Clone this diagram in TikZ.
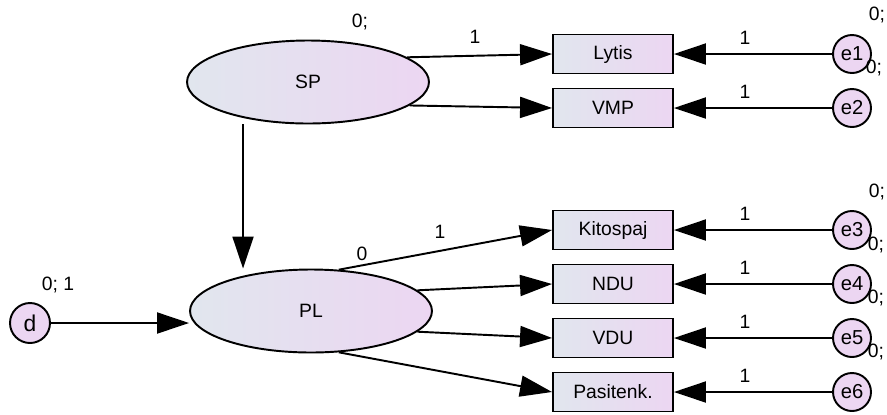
\documentclass[tikz,border=0pt]{standalone}
\usepackage{fontspec}
\setmainfont{Liberation Sans}
\usetikzlibrary{arrows.meta,shapes.geometric}

\definecolor{lgray}{RGB}{225,230,238}
\definecolor{lpink}{RGB}{236,214,242}

\tikzset{
  lat/.style={ellipse, draw, line width=1.1pt, minimum width=4.84cm, minimum height=1.66cm,
    left color=lgray, right color=lpink, font=\fontsize{11}{13}\selectfont},
  obs/.style={rectangle, draw, line width=1.1pt, minimum width=2.4cm, minimum height=0.78cm,
    left color=lgray, right color=lpink, font=\fontsize{11}{13}\selectfont},
  err/.style={circle, draw, line width=1.1pt, minimum size=0.76cm, inner sep=0pt,
    fill=lpink, font=\fontsize{11.5}{13}\selectfont},
  arr/.style={-{Triangle[length=0.64cm,width=0.42cm]}, line width=1.1pt},
  num/.style={font=\fontsize{11}{13}\selectfont, inner sep=1pt}
}

\begin{document}
\begin{tikzpicture}[x=0.02cm, y=-0.02cm]
\useasboundingbox (0,0) rectangle (887,414);
% латентные
\node [lat] (sp) at (308,82) {SP};
\node [lat] (pl) at (311,311) {PL};
% наблюдаемые
\node [obs] (lytis) at (613,54) {Lytis};
\node [obs] (vmp) at (613,108) {VMP};
\node [obs] (kit) at (613,230) {Kitospaj};
\node [obs] (ndu) at (613,284) {NDU};
\node [obs] (vdu) at (613,338) {VDU};
\node [obs] (pas) at (613,392) {Pasitenk.};
% ошибки
\node [err] (e1) at (852,54) {e1};
\node [err] (e2) at (852,108) {e2};
\node [err] (e3) at (852,230) {e3};
\node [err] (e4) at (852,284) {e4};
\node [err] (e5) at (852,338) {e5};
\node [err] (e6) at (852,392) {e6};
\node [err, minimum size=0.8cm, font=\fontsize{13}{15}\selectfont] (d) at (30,323) {d};
% стрелки
\draw [arr] (sp.14) -- (lytis.west);
\draw [arr] (sp.-13) -- (vmp.west);
\draw [arr] ([xshift=-1.3cm]sp.south) -- ([xshift=-1.3cm]sp.south |- pl.north);
\draw [arr] (d) -- (d -| pl.west);
\draw [arr] (pl.56) -- (kit.west);
\draw [arr] (pl.11) -- (ndu.west);
\draw [arr] (pl.-11) -- (vdu.west);
\draw [arr] (pl.-56) -- (pas.west);
\foreach \e/\o in {e1/lytis, e2/vmp, e3/kit, e4/ndu, e5/vdu, e6/pas}
  \draw [arr] (\e) -- node [num, pos=0.55, above=4pt] (w\e) {1} (\o);
% подписи
\node [num] (vsp) at (360,22) {0;};
\node [num] (wsp) at (475,37) {1};
\node [num] (ipl) at (362,254) {0};
\node [num] (wpl) at (440,232) {1};
\node [num] (vd) at (58,285) {0; 1};
\node [num] (v1) at (877,15) {0;};
\node [num] (v2) at (874,68) {0;};
\node [num] (v3) at (877,192) {0;};
\node [num] (v4) at (876,245) {0;};
\node [num] (v5) at (876,298) {0;};
\node [num] (v6) at (876,352) {0;};
\end{tikzpicture}
\end{document}
